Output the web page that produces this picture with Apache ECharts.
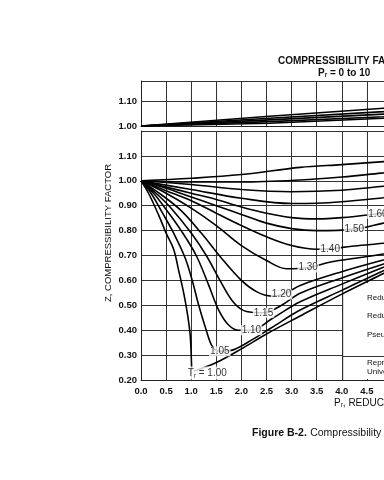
<!DOCTYPE html>
<html><head><meta charset="utf-8">
<script src="https://cdn.jsdelivr.net/npm/echarts@6/dist/echarts.min.js"></script>
<style>html,body{margin:0;padding:0;background:#fff}#c{width:384px;height:480px}</style>
</head><body><div id="c"></div>
<script>
// ---- data (Pr, Z) ----
const tr100 = [[0,1],[0.15,0.95],[0.35,0.863],[0.5,0.79],[0.65,0.725],[0.75,0.64],[0.85,0.55],[0.93,0.46],[0.98,0.38],[1.0,0.30],[1.01,0.24]];
const tr100b = [[1.05,0.235],[1.5,0.27],[2.0,0.325],[2.5,0.385],[3.17,0.457],[4.0,0.545],[4.83,0.628],[5.2,0.665]];
const tr105 = [[0,1],[0.2,0.95],[0.43,0.87],[0.65,0.79],[0.88,0.69],[1.02,0.6],[1.15,0.5],[1.3,0.4],[1.42,0.335],[1.57,0.315],[1.85,0.322],[2.2,0.36],[2.6,0.41],[3.17,0.481],[4.0,0.56],[4.83,0.639],[5.2,0.67]];
const tr110 = [[0,1],[0.25,0.95],[0.5,0.885],[0.8,0.8],[1.1,0.7],[1.35,0.58],[1.55,0.48],[1.75,0.42],[1.95,0.4],[2.2,0.4],[2.6,0.445],[3.17,0.514],[4.0,0.585],[4.83,0.653],[5.2,0.68]];
const tr115 = [[0,1],[0.3,0.95],[0.6,0.89],[1.0,0.79],[1.3,0.7],[1.6,0.59],[1.85,0.51],[2.1,0.475],[2.44,0.47],[2.8,0.5],[3.17,0.548],[4.0,0.61],[4.83,0.666],[5.2,0.69]];
const tr120 = [[0,1],[0.4,0.945],[0.8,0.88],[1.2,0.79],[1.6,0.69],[2.0,0.6],[2.3,0.555],[2.6,0.537],[2.85,0.545],[3.17,0.58],[4.0,0.635],[4.83,0.682],[5.2,0.7]];
const tr130 = [[0,1],[0.5,0.95],[1.0,0.89],[1.5,0.82],[2.0,0.74],[2.5,0.68],[2.9,0.647],[3.33,0.652],[3.8,0.675],[4.3,0.69],[4.83,0.706],[5.2,0.72]];
const tr140 = [[0,1],[0.5,0.96],[1.0,0.92],[1.5,0.87],[2.0,0.82],[2.5,0.775],[3.0,0.74],[3.5,0.725],[3.77,0.727],[4.2,0.737],[4.83,0.749],[5.2,0.76]];
const tr150 = [[0,1],[0.5,0.97],[1.0,0.935],[1.5,0.9],[2.0,0.865],[2.5,0.83],[3.0,0.808],[3.5,0.8],[4.23,0.805],[4.83,0.83],[5.2,0.845]];
const tr160 = [[0,1],[0.5,0.975],[1.0,0.95],[1.5,0.925],[2.0,0.895],[2.5,0.87],[3.0,0.852],[3.5,0.847],[4.0,0.852],[4.7,0.867],[5.2,0.88]];
const tr180 = [[0,1],[1.0,0.965],[2.0,0.93],[3.0,0.909],[3.5,0.91],[4.0,0.916],[4.83,0.932],[5.2,0.94]];
const tr200 = [[0,1],[1.0,0.985],[2.0,0.965],[3.0,0.956],[4.0,0.962],[4.83,0.978],[5.2,0.985]];
const tr250 = [[0,1],[1,0.995],[2,0.995],[3.17,1.003],[4.0,1.015],[4.83,1.032],[5.2,1.04]];
const tr300 = [[0,1],[1,1.01],[2,1.025],[3.17,1.054],[4.0,1.065],[4.83,1.077],[5.2,1.082]];
// upper panel
const up1 = [[0,1],[2.56,1.04],[4.83,1.073],[5.2,1.078]];
const up2 = [[0,1],[2.56,1.032],[4.83,1.059],[5.2,1.064]];
const up3 = [[0,1],[2.56,1.025],[4.83,1.049],[5.2,1.053]];
const up4 = [[0,1],[2.56,1.018],[4.83,1.038],[5.2,1.042]];
const up5 = [[0,1],[2.56,1.011],[4.83,1.032],[5.2,1.036]];
// curve labels
const labelPr = [4.72, 4.25, 3.77, 3.33, 2.80, 2.44, 2.20, 1.57, 1.32];
const labelZ  = [0.867, 0.805, 0.727, 0.652, 0.543, 0.47, 0.40, 0.315, 0.228];
const labelText = ['1.60','1.50','1.40','1.30','1.20','1.15','1.10','1.05','{i|T}{s|r}{i| = 1.00}'];
const xMax = 4.98;

const chart = echarts.init(document.getElementById('c'), null, {renderer:'canvas'});
const FONT = 'Liberation Sans';
const gridLine = {show:true, lineStyle:{color:'#333', width:1, type:'solid'}};
const lineSeries = (d, idx) => ({type:'line', data:d, xAxisIndex:idx, yAxisIndex:idx, symbol:'none', smooth:0.35,
  lineStyle:{color:'#000', width:1.6}, z:3, silent:true, clip:true});
const mainCurves = [tr100, tr100b, tr105, tr110, tr115, tr120, tr130, tr140, tr150, tr160, tr180, tr200, tr250, tr300];
const upCurves = [up1, up2, up3, up4, up5];

const series = [];
mainCurves.forEach(d => series.push(lineSeries(d, 1)));
upCurves.forEach(d => { const s = lineSeries(d, 0); s.smooth = false; series.push(s); });
series.push({type:'scatter', xAxisIndex:1, yAxisIndex:1, symbolSize:0, z:5, silent:true,
  data: labelPr.map((p,i)=>({value:[p, labelZ[i]], label:{formatter:labelText[i]}})),
  label:{show:true, position:'inside', color:'#000', fontFamily:FONT, fontSize:10, backgroundColor:'#fff', padding:[0,1],
    rich:{i:{fontSize:10, fontFamily:FONT, color:'#000'}, s:{fontSize:6.5, fontFamily:FONT, color:'#000', verticalAlign:'bottom', padding:[6,0,0,0]}}}
});
const xLab = v => (Math.abs(v*2-Math.round(v*2))<1e-6) ? v.toFixed(1) : '';

const option = {
  animation:false,
  backgroundColor:'#fff',
  grid:[
    {left:141, top:81, width:250, height:45, show:false, outerBoundsMode:'none', containLabel:false},
    {left:141, top:131, width:250, height:249, show:false, outerBoundsMode:'none', containLabel:false}
  ],
  xAxis:[
    {gridIndex:0, type:'value', min:0, max:xMax, interval:0.5, axisLabel:{show:false}, axisTick:{show:false},
      axisLine:{show:true, lineStyle:{color:'#222'}}, splitLine:gridLine},
    {gridIndex:1, type:'value', min:0, max:xMax, interval:0.5, axisTick:{show:false},
      axisLine:{show:true, lineStyle:{color:'#222'}}, splitLine:gridLine,
      axisLabel:{color:'#111', fontFamily:FONT, fontSize:9.5, fontWeight:'bold', margin:6, showMaxLabel:false, formatter:xLab}}
  ],
  yAxis:[
    {gridIndex:0, type:'value', min:1.0, max:1.185, interval:0.1, axisTick:{show:false},
      axisLine:{show:true, lineStyle:{color:'#222'}}, splitLine:gridLine,
      axisLabel:{color:'#111', fontFamily:FONT, fontSize:9.5, fontWeight:'bold', margin:4,
        formatter:v=> (Math.abs(v-1.0)<1e-6||Math.abs(v-1.1)<1e-6) ? v.toFixed(2) : ''}},
    {gridIndex:1, type:'value', min:0.2, max:1.2, interval:0.1, axisTick:{show:false},
      axisLine:{show:true, lineStyle:{color:'#222'}}, splitLine:gridLine,
      axisLabel:{color:'#111', fontFamily:FONT, fontSize:9.5, fontWeight:'bold', margin:4,
        formatter:v=> v>1.15 ? '' : v.toFixed(2)}}
  ],
  graphic:{elements:[
    {type:'rect', z:2, shape:{x:343, y:283, width:60, height:96}, style:{fill:'#fff'}},
    {type:'line', z:2, shape:{x1:343, y1:356.5, x2:400, y2:356.5}, style:{stroke:'#333', lineWidth:1}},
    {type:'line', z:2, shape:{x1:342.7, y1:283, x2:342.7, y2:380}, style:{stroke:'#333', lineWidth:1}},
    {type:'text', z:6, left:278, top:56, style:{text:'COMPRESSIBILITY FACTORS', font:'bold 10px "Liberation Sans"', fill:'#111'}},
    {type:'text', z:6, left:318, top:68, style:{text:'{a|P}{s|r}{a| = 0 to 10}', font:'bold 10px "Liberation Sans"', fill:'#111',
      rich:{a:{font:'bold 10px "Liberation Sans"', fill:'#111'}, s:{font:'bold 6.5px "Liberation Sans"', fill:'#111', padding:[5,0,0,0]}}}},
    {type:'text', z:6, left:334, top:398, style:{text:'{a|P}{s|r}{a|, REDUCED PRESSURE}', font:'10px "Liberation Sans"', fill:'#111',
      rich:{a:{font:'10px "Liberation Sans"', fill:'#111'}, s:{font:'6.5px "Liberation Sans"', fill:'#111', padding:[5,0,0,0]}}}},
    {type:'text', z:6, left:252, top:427, style:{text:'{b|Figure B-2.} {n|Compressibility factors for natural gases}', fill:'#111',
      rich:{b:{font:'bold 10.5px "Liberation Sans"', fill:'#111'}, n:{font:'10.5px "Liberation Sans"', fill:'#111'}}}},
    {type:'text', z:6, x:108, y:233, rotation:Math.PI/2, style:{text:'Z, COMPRESSIBILITY FACTOR', font:'9.5px "Liberation Sans"', fill:'#111', align:'center', verticalAlign:'middle'}},
    {type:'text', z:6, left:367, top:294, style:{text:'Reduced Pressure', font:'8px "Liberation Sans"', fill:'#111'}},
    {type:'text', z:6, left:367, top:312, style:{text:'Reduced Temperature', font:'8px "Liberation Sans"', fill:'#111'}},
    {type:'text', z:6, left:367, top:331, style:{text:'Pseudo Reduced', font:'8px "Liberation Sans"', fill:'#111'}},
    {type:'text', z:6, left:367, top:359, style:{text:'Reproduced from', font:'8px "Liberation Sans"', fill:'#111'}},
    {type:'text', z:6, left:367, top:368, style:{text:'University', font:'8px "Liberation Sans"', fill:'#111'}}
  ]},
  series: series
};
chart.setOption(option);
</script></body></html>
